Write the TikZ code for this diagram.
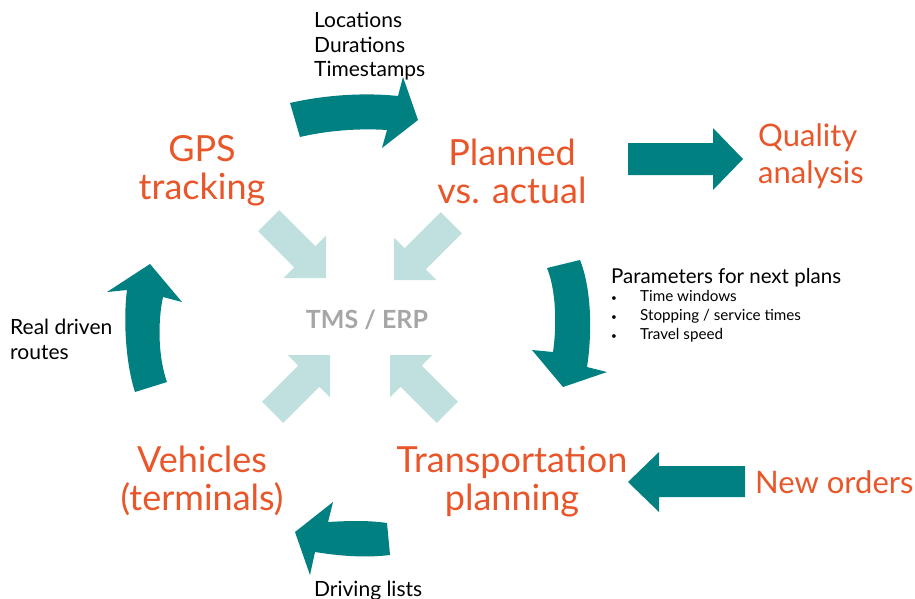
\documentclass[tikz,border=0pt]{standalone}
\usepackage{fontspec}
\setmainfont{Lato}
\usetikzlibrary{positioning}
\definecolor{darkteal}{RGB}{0,128,128}
\definecolor{paleteal}{RGB}{191,224,222}
\definecolor{rust}{RGB}{232,86,42}
\definecolor{midgrey}{RGB}{166,166,166}
\tikzset{inarrow/.pic={\fill[paleteal] (-81,-15) -- (-30,-15) -- (-30,-30) -- (0,0) -- (-30,30) -- (-30,15) -- (-81,15) -- cycle;}}

\begin{document}
\begin{tikzpicture}[x=1pt, y=-1pt,
    stage/.style={text=rust, align=center, font=\fontsize{36}{38}\selectfont},
    outer/.style={text=rust, inner sep=0pt, font=\fontsize{31}{37}\selectfont},
    note/.style={anchor=north west, inner sep=0pt, align=left, font=\fontsize{21}{24.5}\selectfont},
    block/.style={fill=darkteal}]
\useasboundingbox (0,0) rectangle (915,598);

\node[stage] (gps) at (202,171) {GPS\\tracking};
\node[stage] (plan) at (512,171) {Planned\\vs. actual};
\node[stage] (transp) at (512,482) {Transportation\\planning};
\node[stage] (veh) at (202,481) {Vehicles\\(terminals)};
\node[outer, align=left, anchor=west] (qual) at (758,156) {Quality\\analysis};
\node[outer, anchor=base west] (orders) at (755,493) {New orders};
\node[text=midgrey, font=\fontsize{25}{30}\selectfont\bfseries, anchor=base] (tms) at (367,328) {TMS / ERP};

\node[note] (locs) at (314,12) {Locations\\Durations\\Timestamps};
\node[note] (routes) at (10,319) {Real driven\\routes};
\node[note] (drive) at (314,581) {Driving lists};
\node[note, font=\fontsize{20.5}{22}\selectfont] (params) at (611,268) {Parameters for next plans};
\node[note, font=\fontsize{15.2}{19}\selectfont, below=3pt of params.south west, anchor=north west] (items)
    {\makebox[29pt][l]{\fontsize{10}{10}\selectfont•}Time windows\\\makebox[29pt][l]{\fontsize{10}{10}\selectfont•}Stopping / service times\\\makebox[29pt][l]{\fontsize{10}{10}\selectfont•}Travel speed};

\fill[block] (290,103) .. controls (320,96) and (360,92) .. (398,96) -- (403,77) -- (418,120) -- (382,148) -- (387,130) .. controls (357,128) and (325,131) .. (300,137) -- cycle;
\fill[block] (547,268) -- (580,260) .. controls (592,290) and (592,335) .. (587,367) -- (607,372) -- (563,387) -- (532,350) -- (553,352) .. controls (557,325) and (556,290) .. (547,268) -- cycle;
\fill[block] (387,523) .. controls (367,520) and (345,521) .. (328,522) -- (333,502) -- (295,532) -- (310,575) -- (315,552) .. controls (340,556) and (365,558) .. (390,555) -- cycle;
\fill[block] (135,392) .. controls (126,365) and (123,320) .. (127,290) -- (107,292) -- (150,264) -- (182,302) -- (163,297) .. controls (157,325) and (159,360) .. (167,382) -- cycle;
\fill[block] (628,143) -- (713,143) -- (713,128) -- (743,159) -- (713,190) -- (713,175) -- (628,175) -- cycle;
\fill[block] (745,466) -- (659,466) -- (659,452) -- (628,482) -- (659,512) -- (659,497) -- (745,497) -- cycle;

\pic[rotate=-45] at (326,278) {inarrow};
\pic[rotate=-135] at (394,280) {inarrow};
\pic[rotate=45] at (330,355) {inarrow};
\pic[rotate=135] at (390,355) {inarrow};
\end{tikzpicture}
\end{document}
